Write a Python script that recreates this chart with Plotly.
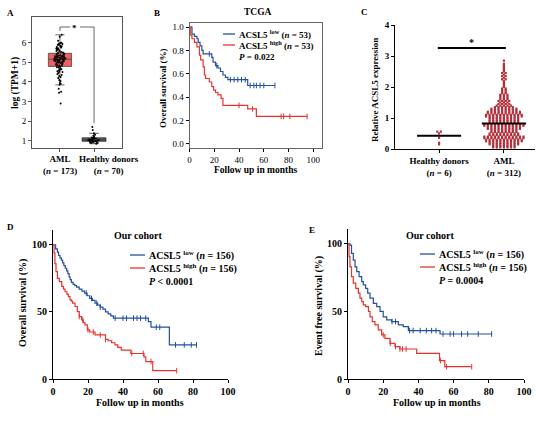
import plotly.graph_objects as go
import numpy as np

W, H = 554, 421
FONT = "Liberation Serif"
BLUE = "#24509f"
RED = "#e6352f"
DOTRED = "#b3303a"

# ---- A: log(TPM+1) box plot ----
a_labels = ["AML", "Healthy donors"]
a_n = [173, 70]
a_aml = [2.9, 3.45, 3.5, 3.65, 3.85, 3.9, 3.95, 4.05, 4.1, 4.2, 4.25, 4.3, 4.35,
         4.4, 4.45, 4.5, 4.52, 4.55, 4.6, 4.62, 4.65, 4.7, 4.72, 4.75, 4.78,
         4.8, 4.82, 4.84, 4.86, 4.88, 4.9, 4.92, 4.94, 4.96, 4.98, 5.0, 5.01,
         5.02, 5.04, 5.05, 5.06, 5.07, 5.08, 5.09, 5.1, 5.11, 5.12, 5.13, 5.14,
         5.15, 5.16, 5.17, 5.18, 5.19, 5.2, 5.21, 5.22, 5.23, 5.24, 5.25, 5.26,
         5.27, 5.28, 5.29, 5.3, 5.31, 5.32, 5.33, 5.35, 5.36, 5.38, 5.4, 5.42,
         5.44, 5.45, 5.47, 5.5, 5.52, 5.55, 5.57, 5.6, 5.62, 5.65, 5.67, 5.7,
         5.72, 5.75, 5.78, 5.8, 5.82, 5.85, 5.88, 5.9, 5.93, 5.95, 5.98, 6.0,
         6.1, 6.3, 6.4]
a_hd = [0.85, 0.88, 0.9, 0.92, 0.94, 0.95, 0.96, 0.97, 0.98, 0.99, 1.0, 1.01,
        1.02, 1.03, 1.04, 1.05, 1.06, 1.07, 1.08, 1.1, 1.12, 1.13, 1.15, 1.17,
        1.2, 1.25, 1.3, 1.38, 1.55, 1.7]

# ---- B: TCGA overall survival ----
b_low_t = [0, 2, 4, 6, 7, 8.5, 10, 11, 18, 19, 21, 23, 25, 27, 29, 31, 47, 69]
b_low_s = [1.0, 0.94, 0.92, 0.90, 0.87, 0.84, 0.80, 0.77, 0.74, 0.70, 0.67, 0.65,
           0.62, 0.59, 0.57, 0.55, 0.50, 0.50]
b_low_cens = [16, 22, 33, 36, 39, 42, 45, 49, 52, 54, 57, 60, 69]
b_high_t = [0, 1, 2, 4, 6, 8, 9, 11, 12, 13, 16, 18, 19.5, 21, 23, 25.5, 27, 47, 54, 95]
b_high_s = [1.0, 0.93, 0.90, 0.87, 0.83, 0.76, 0.72, 0.66, 0.59, 0.56, 0.53, 0.49,
            0.46, 0.44, 0.42, 0.39, 0.33, 0.30, 0.235, 0.235]
b_high_cens = [40, 51, 74, 76, 81, 95]
b_n = 53
b_p = "<i>P</i> = 0.022"

# ---- C: relative ACSL5 expression ----
c_labels = ["Healthy donors", "AML"]
c_n = [6, 312]
c_hd = [0.56, 0.56, 0.5, 0.36, 0.2, 0.15]
c_aml_levels = [0.05, 0.10, 0.15, 0.20, 0.25, 0.30, 0.35, 0.40, 0.45, 0.50, 0.55,
                0.60, 0.65, 0.70, 0.75, 0.80, 0.85, 0.90, 0.95, 1.00, 1.05, 1.10,
                1.15, 1.20, 1.25, 1.30, 1.35, 1.40, 1.45, 1.50, 1.55, 1.60, 1.65,
                1.70, 1.75, 1.80, 1.85, 1.90, 1.95, 2.00, 2.05, 2.10, 2.15, 2.20,
                2.25, 2.30, 2.35, 2.40, 2.45, 2.50, 2.55, 2.60, 2.65, 2.70, 2.75,
                2.80, 2.85]
c_aml_counts = [7, 7, 9, 9, 11, 11, 12, 12, 9, 9, 8, 8, 10, 10, 12, 12, 9, 9, 9, 9,
                11, 11, 10, 10, 8, 8, 6, 5, 4, 3, 4, 3, 3, 3, 3, 2, 2, 2, 2, 1, 1, 1,
                1, 1, 2, 1, 2, 1, 2, 1, 1, 1, 1, 1, 1, 0, 1]

# ---- D: our cohort overall survival (%) ----
d_low_t = [0, 1.5, 2.5, 3.2, 4.0, 4.8, 5.5, 6.2, 7.0, 7.8, 8.5, 9.2, 9.8, 10.5,
           11.5, 12.5, 13.5, 15, 16.5, 18, 19.5, 21, 22.5, 24, 25.5, 27, 28.5, 30,
           31.5, 33, 34.5, 54.5, 56, 66.5, 82]
d_low_s = [100, 97, 94.5, 92, 90, 88.5, 86.5, 84.5, 82.5, 80.5, 78.5, 76, 74, 72,
           70.5, 69.5, 68.5, 67, 65.5, 64, 62, 60, 58.5, 56.5, 55, 53.5, 52, 50,
           48.5, 47, 45.3, 42.8, 38.6, 25.4, 25.4]
d_low_cens = [19, 22, 25, 27, 35.5, 40, 42, 46, 48, 50, 53, 59, 61, 70, 75, 79, 82]
d_high_t = [0, 0.6, 1.1, 1.7, 2.5, 3.6, 5, 6, 6.9, 8, 8.8, 9.7, 10.5, 11.2, 12.6,
            13.9, 15, 16.4, 17.3, 18.3, 19.6, 21, 24, 30, 31.5, 33.5, 35.4, 37, 39,
            44.5, 52, 53, 57, 70.7]
d_high_s = [100, 93.8, 86, 80, 75, 72.6, 69, 67, 65, 63, 61.4, 59, 58, 56.5, 54,
            50.2, 46.5, 44, 42, 40.3, 36.6, 35, 32.8, 29.5, 28.5, 27, 25.4, 23.5,
            21.5, 19, 16.5, 13, 6.2, 6.2]
d_high_cens = [15, 17, 20, 23, 27, 30, 45, 51.6, 56, 70.7]
d_p = "<i>P</i> < 0.0001"

# ---- E: our cohort event free survival (%) ----
e_low_t = [0, 1.1, 2, 3, 4, 5, 6.3, 7.8, 8.7, 10, 11.2, 12.5, 14.4, 16.3, 18.2,
           20, 22, 24.8, 28.6, 31.4, 34.3, 52.3, 81.6]
e_low_s = [100, 99, 93, 88, 83, 79.5, 75.8, 72, 69.6, 67, 63.5, 59.8, 56, 53.6,
           50, 46, 43.7, 42.5, 40, 38.8, 35.8, 33.3, 33.3]
e_low_cens = [25, 27, 35, 37, 41, 44.5, 47.5, 50, 54, 58, 60, 64.5, 68, 74, 81.6]
e_high_t = [0, 0.6, 1.1, 2, 3, 4.4, 5.9, 6.8, 7.8, 8.7, 10, 11.6, 12.5, 13.8,
            15.3, 17.2, 19.1, 21, 23.9, 26.7, 29.5, 39, 52, 55, 70.3]
e_high_s = [100, 90.6, 83, 75.8, 70.9, 67, 63.5, 59.8, 57.3, 54.8, 53.6, 50, 46,
            42.5, 40, 36.3, 32.6, 30, 26.4, 24, 22.2, 19, 13.6, 9.1, 9.1]
e_high_cens = [20, 24, 27, 29.5, 31, 33, 52.5, 56, 70.3]
e_p = "<i>P</i> = 0.0004"
de_n = 156


def px(x):
    return x / W


def py(y):
    return 1 - y / H


def km(t, s, cens, color, xa, ya):
    t = np.array(t)
    s = np.array(s)
    idx = np.searchsorted(t, cens, side="right") - 1
    return [
        go.Scatter(x=t, y=s, mode="lines", line=dict(color=color, width=1.2, shape="hv"),
                   xaxis=xa, yaxis=ya, showlegend=False, hoverinfo="skip"),
        go.Scatter(x=cens, y=s[idx], mode="markers", xaxis=xa, yaxis=ya,
                   marker=dict(symbol="line-ns", size=4, line=dict(color=color, width=1)),
                   showlegend=False, hoverinfo="skip"),
    ]


def swarm(vals, pos, step=0.055):
    # spread points sharing a value side by side around the group position
    vals = np.asarray(vals)
    xs = np.zeros(len(vals))
    for v in np.unique(vals):
        idx = np.where(vals == v)[0]
        k = len(idx)
        xs[idx] = pos + (np.arange(k) - (k - 1) / 2) * step
    return xs


fig = go.Figure()

# A
fig.add_trace(go.Box(y=a_aml, x0=0, width=0.68, fillcolor="#ee6160",
                     line=dict(color="#444", width=0.8), whiskerwidth=0.4,
                     boxpoints="all", jitter=0.5, pointpos=0,
                     marker=dict(color="black", size=2), xaxis="x", yaxis="y",
                     showlegend=False, hoverinfo="skip"))
fig.add_trace(go.Box(y=a_hd, x0=1, width=0.7, fillcolor="#5f5f5f",
                     line=dict(color="#333", width=0.8), whiskerwidth=0.4,
                     boxpoints="all", jitter=0.5, pointpos=0,
                     marker=dict(color="black", size=2), xaxis="x", yaxis="y",
                     showlegend=False, hoverinfo="skip"))

# B
for tr in km(b_low_t, b_low_s, b_low_cens, BLUE, "x2", "y2"):
    fig.add_trace(tr)
for tr in km(b_high_t, b_high_s, b_high_cens, RED, "x2", "y2"):
    fig.add_trace(tr)

# C
c_aml = np.repeat(c_aml_levels, c_aml_counts)
for pos, vals in [(0, c_hd), (1, c_aml)]:
    fig.add_trace(go.Scatter(x=swarm(vals, pos), y=vals, mode="markers",
                             marker=dict(color=DOTRED, size=2.2, symbol="square"),
                             xaxis="x3", yaxis="y3", showlegend=False, hoverinfo="skip"))
    m = float(np.median(vals))
    fig.add_trace(go.Scatter(x=[pos - 0.34, pos + 0.34], y=[m, m], mode="lines",
                             line=dict(color="black", width=2), xaxis="x3", yaxis="y3",
                             showlegend=False, hoverinfo="skip"))

# D, E
for tr in km(d_low_t, d_low_s, d_low_cens, BLUE, "x4", "y4"):
    fig.add_trace(tr)
for tr in km(d_high_t, d_high_s, d_high_cens, RED, "x4", "y4"):
    fig.add_trace(tr)
for tr in km(e_low_t, e_low_s, e_low_cens, BLUE, "x5", "y5"):
    fig.add_trace(tr)
for tr in km(e_high_t, e_high_s, e_high_cens, RED, "x5", "y5"):
    fig.add_trace(tr)


def axis(domain, anchor, size=9, bold=False, **kw):
    d = dict(domain=domain, anchor=anchor, showgrid=False, zeroline=False,
             ticks="outside", ticklen=3, tickwidth=1, showline=True, linewidth=1,
             linecolor="black", tickcolor="black", tickangle=0,
             tickfont=dict(family=FONT, size=size, color="black",
                           weight="bold" if bold else "normal"))
    d.update(kw)
    return d


c_ticks = [f"<b>{l}</b><br><b>(<i>n</i> = {n})</b>" for l, n in zip(c_labels, c_n)]

fig.update_layout(
    width=W, height=H, autosize=False, margin=dict(l=0, r=0, t=0, b=0),
    paper_bgcolor="white", plot_bgcolor="white", template="none",
    font=dict(family=FONT, color="black"),
    xaxis=axis([px(32), px(122)], "y", range=[-0.82, 1.82], tickvals=[0, 1],
               showticklabels=False, mirror=True, linecolor="#555", tickcolor="#555"),
    yaxis=axis([py(148), py(17)], "x", range=[0.63, 7.31], tickvals=[1, 2, 3, 4, 5, 6],
               mirror=True, linecolor="#555", tickcolor="#555"),
    xaxis2=axis([px(189.5), px(322)], "y2", range=[0, 107],
                tickvals=[0, 20, 40, 60, 80, 100], mirror=True, linecolor="#666"),
    yaxis2=axis([py(148), py(23)], "x2", range=[-0.035, 1.035],
                tickvals=[0, 0.2, 0.4, 0.6, 0.8, 1.0], tickformat=".1f", mirror=True,
                linecolor="#666"),
    xaxis3=axis([px(395), px(535)], "y3", bold=True, range=[-0.68, 1.48], tickvals=[0, 1],
                ticktext=c_ticks),
    yaxis3=axis([py(149), py(25)], "x3", bold=True, range=[0, 4], tickvals=[0, 1, 2, 3, 4]),
    xaxis4=axis([px(53), px(228)], "y4", size=10, bold=True, range=[0, 100],
                tickvals=[0, 20, 40, 60, 80, 100]),
    yaxis4=axis([py(379), py(230)], "x4", size=10, bold=True, range=[0, 111],
                tickvals=[0, 50, 100]),
    xaxis5=axis([px(348), px(524)], "y5", size=10, bold=True, range=[0, 100],
                tickvals=[0, 20, 40, 60, 80, 100]),
    yaxis5=axis([py(379), py(229)], "x5", size=10, bold=True, range=[0, 111],
                tickvals=[0, 50, 100]),
)

# A significance bracket
shapes = []
for x0, y0, x1, y1 in [(0, 6.6, 0, 6.8), (0, 6.8, 0.3, 6.8), (0.59, 6.8, 1, 6.8),
                       (1, 6.8, 1, 1.9)]:
    shapes.append(dict(type="line", xref="x", yref="y", x0=x0, y0=y0, x1=x1, y1=y1,
                       line=dict(color="#666", width=1)))
# C significance line
shapes.append(dict(type="line", xref="x3", yref="y3", x0=-0.02, x1=1.03, y0=3.26, y1=3.26,
                   line=dict(color="black", width=2)))

annotations = []


def text(x, y, s, size=9, anchor="center", **kw):
    annotations.append(dict(x=x, y=y, text=s, showarrow=False, xanchor=anchor,
                            yanchor=kw.pop("yanchor", "middle"),
                            font=dict(family=FONT, size=size, color="black", weight="bold"),
                            **kw))


def ptext(x, y, s, size=9, anchor="center", **kw):
    text(px(x), py(y), s, size, anchor, xref="paper", yref="paper", **kw)


# panel letters and titles
for lab, x, y in [("A", 10, 13), ("B", 157, 13), ("C", 364, 12), ("D", 10, 227),
                  ("E", 312, 230)]:
    ptext(x, y, lab, 9)
ptext(258, 12, "TCGA", 9.5)
ptext(138, 235, "Our cohort", 10)
ptext(430, 235, "Our cohort", 10)
text(0.44, 6.75, "*", 9, xref="x", yref="y")
text(0.5, 3.45, "*", 10, xref="x3", yref="y3")

# A category labels (healthy label sits right of its box, as in the original)
for i, (lab, n) in enumerate(zip(a_labels, a_n)):
    text(i, py(152), f"{lab}<br>(<i>n</i> = {n})", 9, xref="x", yref="paper",
         yanchor="top", xshift=15 * i)

# axis titles
ptext(15, 83, "log (TPM+1)", 9.5, textangle=-90)
ptext(163, 88, "Overall survival (%)", 9, textangle=-90)
ptext(255, 170, "Follow up in months", 9.5)
ptext(375, 90, "Relative ACSL5 expression", 9, textangle=-90)
ptext(23, 303, "Overall survival (%)", 10, textangle=-90)
ptext(140, 402, "Follow up in months", 10)
ptext(319, 306, "Event free survival (%)", 10, textangle=-90)
ptext(437, 402, "Follow up in months", 10)

# legends drawn as short line samples with labels
legends = [
    (223, 235, 34, 45, 57, b_n, b_p, 9),
    (130, 145, 255, 268, 281, de_n, d_p, 10),
    (420, 435, 254, 267, 280, de_n, e_p, 10),
]
for x0, x1, yl, yh, yp, n, p, fs in legends:
    for yy, col, grp in [(yl, BLUE, "low"), (yh, RED, "high")]:
        shapes.append(dict(type="line", xref="paper", yref="paper", x0=px(x0), x1=px(x1),
                           y0=py(yy), y1=py(yy), line=dict(color=col, width=1.3)))
        ptext(x1 + 2, yy, f"ACSL5 <sup>{grp}</sup> (<i>n</i> = {n})", fs, anchor="left")
    ptext(x1 + 2, yp, p, fs, anchor="left")

fig.update_layout(shapes=shapes, annotations=annotations)
fig.write_html("out.html", config={"displayModeBar": False},
               post_script="document.body.style.margin = '0';")
